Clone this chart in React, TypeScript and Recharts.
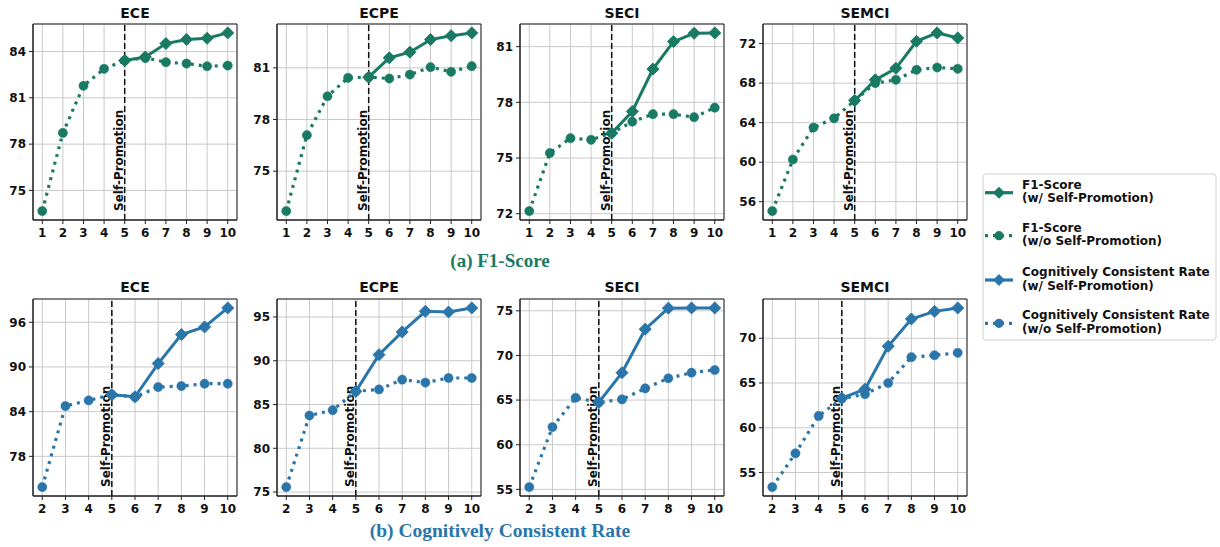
import { LineChart, Line, XAxis, YAxis, CartesianGrid, ReferenceLine, ReferenceArea } from "recharts"

const GREEN = "#197a64"
const BLUE = "#2a75a9"

// x values
const f1Steps = [1, 2, 3, 4, 5, 6, 7, 8, 9, 10]
const ccrSteps = [2, 3, 4, 5, 6, 7, 8, 9, 10]
const promoSteps = [5, 6, 7, 8, 9, 10]

// (a) F1-Score
const f1EceWithout = [73.66, 78.73, 81.78, 82.88, 83.42, 83.59, 83.31, 83.22, 83.05, 83.09]
const f1EceWith = [83.42, 83.65, 84.52, 84.78, 84.86, 85.21]
const f1EcpeWithout = [72.68, 77.09, 79.35, 80.42, 80.46, 80.38, 80.61, 81.04, 80.77, 81.1]
const f1EcpeWith = [80.46, 81.58, 81.91, 82.64, 82.87, 83.03]
const f1SeciWithout = [72.14, 75.27, 76.07, 75.98, 76.34, 76.96, 77.36, 77.36, 77.2, 77.71]
const f1SeciWith = [76.34, 77.51, 79.79, 81.27, 81.72, 81.74]
const f1SemciWithout = [55.05, 60.27, 63.5, 64.44, 66.24, 68.0, 68.33, 69.34, 69.58, 69.45]
const f1SemciWith = [66.24, 68.33, 69.5, 72.23, 73.08, 72.57]

// (b) Cognitively Consistent Rate
const ccrEceWithout = [73.88, 84.75, 85.51, 86.28, 85.96, 87.3, 87.43, 87.75, 87.75]
const ccrEceWith = [86.28, 86.0, 90.46, 94.35, 95.37, 97.92]
const ccrEcpeWithout = [75.57, 83.74, 84.35, 86.5, 86.72, 87.84, 87.5, 88.03, 88.03]
const ccrEcpeWith = [86.5, 90.69, 93.29, 95.65, 95.57, 96.03]
const ccrSeciWithout = [55.26, 61.98, 65.26, 64.74, 65.08, 66.31, 67.44, 68.07, 68.37]
const ccrSeciWith = [64.74, 68.07, 72.94, 75.3, 75.32, 75.32]
const ccrSemciWithout = [53.38, 57.14, 61.32, 63.25, 63.75, 65.0, 67.88, 68.1, 68.37]
const ccrSemciWith = [63.3, 64.3, 69.1, 72.15, 73.0, 73.38]

const legendLabels = [
  ["F1-Score", "(w/ Self-Promotion)"],
  ["F1-Score", "(w/o Self-Promotion)"],
  ["Cognitively Consistent Rate", "(w/ Self-Promotion)"],
  ["Cognitively Consistent Rate", "(w/o Self-Promotion)"],
]

const FONT = "'DejaVu Sans', sans-serif"
const YW = 30
const XH = 24

function buildRows(steps: number[], without: number[], withPromo: number[]) {
  return steps.map((s, i) => {
    const j = promoSteps.indexOf(s)
    return { step: s, without: without[i], with: j >= 0 ? withPromo[j] : null }
  })
}

function padDomain(vals: number[]): [number, number] {
  const lo = Math.min(...vals)
  const hi = Math.max(...vals)
  const m = (hi - lo) * 0.05
  return [lo - m, hi + m]
}

const Diamond = (color: string) => (props: any) => {
  const { cx, cy, index } = props
  if (cx == null || cy == null) return <g key={`d-${index}`} />
  const r = 6
  return (
    <path key={`d-${index}`} d={`M${cx},${cy - r}L${cx + r},${cy}L${cx},${cy + r}L${cx - r},${cy}Z`} fill={color} stroke={color} strokeWidth={1} />
  )
}

const Circle = (color: string) => (props: any) => {
  const { cx, cy, index } = props
  if (cx == null || cy == null) return <g key={`c-${index}`} />
  return <circle key={`c-${index}`} cx={cx} cy={cy} r={4.6} fill={color} stroke={color} strokeWidth={0.5} />
}

const PromoLabel = (props: any) => {
  const { viewBox } = props
  const x = viewBox.x - 2
  const y = viewBox.y + viewBox.height - 9
  return (
    <text x={x} y={y} transform={`rotate(-90, ${x}, ${y})`} textAnchor="start" fontFamily={FONT} fontWeight="bold" fontSize={12} fill="#111">
      Self-Promotion
    </text>
  )
}

interface PanelProps {
  title: string
  steps: number[]
  without: number[]
  withPromo: number[]
  yTicks: number[]
  color: string
  x0: number
  x1: number
  y0: number
  y1: number
  titleTop: number
}

function Panel({ title, steps, without, withPromo, yTicks, color, x0, x1, y0, y1, titleTop }: PanelProps) {
  const rows = buildRows(steps, without, withPromo)
  const yDomain = padDomain([...without, ...withPromo])
  const xm = (steps[steps.length - 1] - steps[0]) * 0.05
  const xDomain: [number, number] = [steps[0] - xm, steps[steps.length - 1] + xm]
  const w = YW + (x1 - x0) + 2
  const h = 2 + (y1 - y0) + XH
  const tickStyle = { fontFamily: FONT, fontWeight: "bold", fontSize: 12, fill: "#111" }
  return (
    <>
      <div
        style={{
          position: "absolute",
          left: x0,
          width: x1 - x0,
          top: titleTop,
          textAlign: "center",
          fontFamily: FONT,
          fontWeight: "bold",
          fontSize: 14,
          lineHeight: "16px",
          color: "#111",
        }}
      >
        {title}
      </div>
      <div style={{ position: "absolute", left: x0 - YW, top: y0 - 2 }}>
        <LineChart width={w} height={h} data={rows} margin={{ top: 2, right: 2, left: 0, bottom: 0 }}>
          <CartesianGrid stroke="#c9c9c9" strokeWidth={1} />
          <XAxis
            type="number"
            dataKey="step"
            domain={xDomain}
            ticks={steps}
            allowDataOverflow
            height={XH}
            tick={tickStyle}
            tickSize={4}
            tickMargin={4}
            stroke="#222"
            interval={0}
          />
          <YAxis
            type="number"
            domain={yDomain}
            ticks={yTicks}
            allowDataOverflow
            width={YW}
            tick={tickStyle}
            tickSize={4}
            tickMargin={3}
            stroke="#222"
            interval={0}
          />
          <ReferenceArea x1={xDomain[0]} x2={xDomain[1]} y1={yDomain[0]} y2={yDomain[1]} fill="none" stroke="#222" strokeWidth={1} fillOpacity={0} />
          <ReferenceLine x={5} stroke="#111" strokeWidth={1.5} strokeDasharray="6 3" label={<PromoLabel />} />
          <Line
            type="linear"
            dataKey="without"
            stroke={color}
            strokeWidth={3.2}
            strokeDasharray="3 5"
            dot={Circle(color)}
            activeDot={false}
            isAnimationActive={false}
          />
          <Line
            type="linear"
            dataKey="with"
            stroke={color}
            strokeWidth={3}
            dot={Diamond(color)}
            activeDot={false}
            connectNulls={false}
            isAnimationActive={false}
          />
        </LineChart>
      </div>
    </>
  )
}

function LegendBox() {
  const centers = [22.7, 65.7, 110, 153.3]
  const colors = [GREEN, GREEN, BLUE, BLUE]
  return (
    <svg style={{ position: "absolute", left: 975, top: 170 }} width={245} height={180}>
      <rect x={8} y={4} width={233} height={166} rx={3} fill="#fff" stroke="#d0d0d0" strokeWidth={1} />
      {legendLabels.map((lines, i) => {
        const c = centers[i]
        const solid = i % 2 === 0
        const col = colors[i]
        return (
          <g key={i}>
            <line x1={10} x2={38} y1={c} y2={c} stroke={col} strokeWidth={3.2} strokeDasharray={solid ? undefined : "3 5"} />
            {solid ? (
              <path d={`M24,${c - 6}L30,${c}L24,${c + 6}L18,${c}Z`} fill={col} />
            ) : (
              <circle cx={24} cy={c} r={4.6} fill={col} />
            )}
            <text x={47} y={c - 4} fontFamily={FONT} fontWeight="bold" fontSize={12} fill="#111">
              {lines[0]}
            </text>
            <text x={47} y={c + 9.5} fontFamily={FONT} fontWeight="bold" fontSize={12} fill="#111">
              {lines[1]}
            </text>
          </g>
        )
      })}
    </svg>
  )
}

export default function App() {
  const topX = [
    [33, 237],
    [277, 481],
    [520, 724],
    [763, 967],
  ]
  const f1Data = [
    { without: f1EceWithout, with: f1EceWith, ticks: [75, 78, 81, 84] },
    { without: f1EcpeWithout, with: f1EcpeWith, ticks: [75, 78, 81] },
    { without: f1SeciWithout, with: f1SeciWith, ticks: [72, 75, 78, 81] },
    { without: f1SemciWithout, with: f1SemciWith, ticks: [56, 60, 64, 68, 72] },
  ]
  const ccrData = [
    { without: ccrEceWithout, with: ccrEceWith, ticks: [78, 84, 90, 96] },
    { without: ccrEcpeWithout, with: ccrEcpeWith, ticks: [75, 80, 85, 90, 95] },
    { without: ccrSeciWithout, with: ccrSeciWith, ticks: [55, 60, 65, 70, 75] },
    { without: ccrSemciWithout, with: ccrSemciWith, ticks: [55, 60, 65, 70] },
  ]
  const tasks = ["ECE", "ECPE", "SECI", "SEMCI"]
  return (
    <div style={{ position: "fixed", left: 0, top: 0, width: 1220, height: 547, background: "#fff", overflow: "hidden" }}>
      {tasks.map((t, i) => (
        <Panel
          key={`f1-${t}`}
          title={t}
          steps={f1Steps}
          without={f1Data[i].without}
          withPromo={f1Data[i].with}
          yTicks={f1Data[i].ticks}
          color={GREEN}
          x0={topX[i][0]}
          x1={topX[i][1]}
          y0={24}
          y1={220}
          titleTop={5}
        />
      ))}
      {tasks.map((t, i) => (
        <Panel
          key={`ccr-${t}`}
          title={t}
          steps={ccrSteps}
          without={ccrData[i].without}
          withPromo={ccrData[i].with}
          yTicks={ccrData[i].ticks}
          color={BLUE}
          x0={topX[i][0]}
          x1={topX[i][1]}
          y0={299}
          y1={496}
          titleTop={279}
        />
      ))}
      <div
        style={{
          position: "absolute",
          left: 300,
          width: 400,
          top: 249,
          textAlign: "center",
          fontFamily: "'Liberation Serif', serif",
          fontWeight: "bold",
          fontSize: 19,
          lineHeight: "24px",
          color: GREEN,
        }}
      >
        (a) F1-Score
      </div>
      <div
        style={{
          position: "absolute",
          left: 250,
          width: 500,
          top: 519,
          textAlign: "center",
          fontFamily: "'Liberation Serif', serif",
          fontWeight: "bold",
          fontSize: 19.5,
          lineHeight: "24px",
          color: BLUE,
        }}
      >
        (b) Cognitively Consistent Rate
      </div>
      <LegendBox />
    </div>
  )
}
